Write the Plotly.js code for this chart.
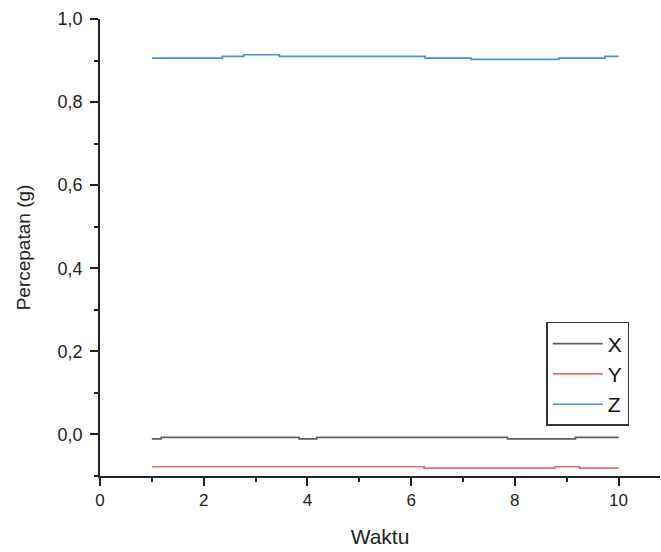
<!DOCTYPE html>
<html>
<head>
<meta charset="utf-8">
<script src="https://cdn.plot.ly/plotly-3.0.1.min.js"></script>
<style>html,body{margin:0;padding:0;background:#fff;}#chart{width:661px;height:552px;}</style>
</head>
<body>
<div id="chart"></div>
<script>
// Step-wise readings (time where value changes, value)
const xTime = [1, 1.18, 3.84, 4.18, 7.86, 9.17, 10];
const xVals = [-0.0104, -0.0072, -0.0104, -0.0072, -0.0104, -0.0072, -0.0072];
const yTime = [1, 6.25, 8.77, 9.25, 10];
const yVals = [-0.0777, -0.081, -0.0777, -0.081, -0.081];
const zTime = [1, 2.36, 2.77, 3.46, 6.27, 7.16, 8.85, 9.74, 10];
const zVals = [0.906, 0.910, 0.914, 0.910, 0.906, 0.903, 0.906, 0.910, 0.910];
const seriesNames = ['X', 'Y', 'Z'];

const colors = ['#5e5e5e', '#f26b6b', '#4a8de2'];
const traces = [[xTime, xVals], [yTime, yVals], [zTime, zVals]].map((d, i) => ({
  x: d[0], y: d[1], name: seriesNames[i], type: 'scatter', mode: 'lines',
  line: {color: colors[i], width: 1.7, shape: 'hv'}
}));

const axisCommon = {
  showline: true, linecolor: '#222', linewidth: 1.5,
  ticks: 'outside', ticklen: 8, tickwidth: 1.5, tickcolor: '#222',
  showgrid: false, zeroline: false, mirror: false
};

const layout = {
  width: 661, height: 552,
  margin: {l: 100, r: 1, t: 19, b: 76},
  separators: ',.',
  paper_bgcolor: '#fff', plot_bgcolor: '#fff',
  font: {family: 'Liberation Sans, Arial, sans-serif', color: '#222'},
  xaxis: Object.assign({}, axisCommon, {
    range: [0, 10.8], tick0: 0, dtick: 2,
    tickfont: {family: 'Liberation Sans, Arial, sans-serif', size: 17, color: '#222'},
    minor: {dtick: 1, ticks: 'outside', ticklen: 4, tickwidth: 1.5, tickcolor: '#222'},
    title: {text: 'Waktu', font: {size: 21, color: '#222'}, standoff: 20}
  }),
  yaxis: Object.assign({}, axisCommon, {
    range: [-0.1, 1.0], tick0: 0, dtick: 0.2, tickformat: '.1f',
    ticklabelstandoff: 4,
    tickfont: {family: 'Liberation Sans, Arial, sans-serif', size: 18, color: '#222'},
    minor: {dtick: 0.1, ticks: 'outside', ticklen: 4, tickwidth: 1.5, tickcolor: '#222'},
    title: {text: 'Percepatan (g)', font: {size: 19, color: '#222'}, standoff: 22}
  }),
  showlegend: true,
  legend: {
    x: 0.797, y: 0.337, xanchor: 'left', yanchor: 'top',
    bordercolor: '#333', borderwidth: 1.5, bgcolor: '#fff',
    font: {size: 21, color: '#111'}, tracegroupgap: 0, itemwidth: 50
  }
};

Plotly.newPlot('chart', traces, layout, {displayModeBar: false});
</script>
</body>
</html>
